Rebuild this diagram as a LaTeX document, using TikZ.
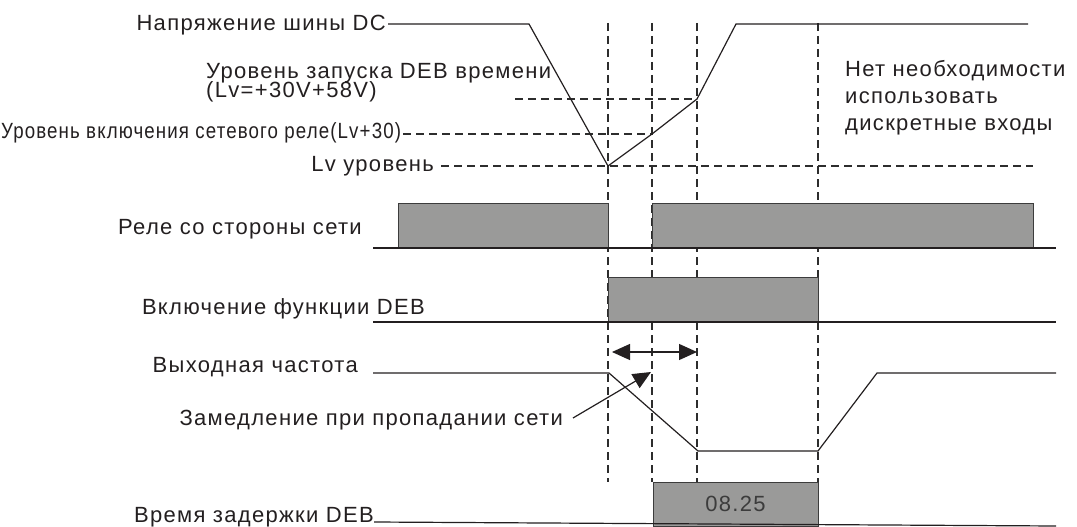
\documentclass[tikz,border=0pt]{standalone}
\usepackage{fontspec}
\setmainfont[LetterSpace=6]{Liberation Sans}
\usetikzlibrary{arrows.meta}
\definecolor{cLine}{RGB}{35,31,32}
\definecolor{cDash}{RGB}{45,45,45}
\definecolor{cBox}{RGB}{154,154,153}
\definecolor{cEdge}{RGB}{60,60,60}
\tikzset{
  lbl/.style={inner sep=0pt,font=\fontsize{22}{26}\selectfont,text=cLine},
  wave/.style={cLine,line width=1.2pt},
  guide/.style={cDash,line width=1.1pt,dash pattern=on 8pt off 5pt},
  blk/.style={fill=cBox,draw=cEdge,line width=0.8pt},
  bigtip/.style={cLine,line width=1.2pt,-{Triangle[length=18pt,width=16pt]}},
  twotip/.style={cLine,line width=1.2pt,{Triangle[length=18pt,width=16pt]}-{Triangle[length=18pt,width=16pt]}},
}
\begin{document}
\begin{tikzpicture}[x=1pt,y=-1pt]
\useasboundingbox (0,0) rectangle (1077,527);
\node[lbl,anchor=base east] (dcbus) at (386,31) {Напряжение шины DC};
\node[lbl,anchor=base west] (debstart) at (206,78) {Уровень запуска DEB времени};
\node[lbl,anchor=base west] (debval) at (206,98) {(Lv=+30V+58V)};
\node[lbl,anchor=base west] (relaylvl) at (1,138) {\scalebox{0.85}[1]{Уровень включения сетевого реле(Lv+30)}};
\node[lbl,anchor=base east] (lvlvl) at (434,171) {Lv уровень};
\node[lbl,anchor=base west] (nodi1) at (845,77) {Нет необходимости};
\node[lbl,anchor=base west] (nodi2) at (845,103) {использовать};
\node[lbl,anchor=base west] (nodi3) at (845,130) {дискретные входы};
\node[lbl,anchor=base east] (relay) at (362,234) {Реле со стороны сети};
\node[lbl,anchor=base east] (debon) at (425,314) {Включение функции DEB};
\node[lbl,anchor=base east] (freq) at (358,372) {Выходная частота};
\node[lbl,anchor=base east] (decel) at (563,425) {Замедление при пропадании сети};
\node[lbl,anchor=base east] (delay) at (374,522) {Время задержки DEB};
\coordinate (dcA) at (529,24);
\coordinate (dcMin) at (608,166);
\coordinate (dcRel) at (652,134);
\coordinate (dcDeb) at (697,99);
\coordinate (dcTop) at (736,24);
\coordinate (dcEnd) at (1028,24);
\foreach \x in {608,652,697,818}
  \draw[guide] (\x,23) -- (\x,482);
\draw[guide] (515,99) -- (dcDeb);
\draw[guide] (relaylvl.base east) ++(2,-4) -- (dcRel);
\draw[guide] (lvlvl.base east) ++(7,-5) -- (1033,166);
\draw[wave] (dcbus.base east) ++(2,-7) -- (dcA) -- (dcMin) -- (dcRel) -- (dcDeb) -- (dcTop) -- (dcEnd);
\draw[blk] (398,203) rectangle (608,248);
\draw[blk] (652,203) rectangle (1033,248);
\draw[wave] (373,248) -- (1056,248);
\draw[blk] (608,277) rectangle (818,322);
\draw[wave] (373,322) -- (1056,322);
\draw[wave] (freq.base east) ++(15,1) -- (609,373) -- (698,451) -- (818,451) -- (877,373) -- (1056,373);
\draw[twotip] (612,352) -- (697,352);
\draw[bigtip] (decel.base east) ++(10,-7) -- (651,372);
\draw[blk] (653,482) rectangle (818,526);
\node[lbl,text=cEdge] (delayval) at (735.5,504) {08.25};
\draw[wave] (delay.base east) -- (1056,526);
\end{tikzpicture}
\end{document}
